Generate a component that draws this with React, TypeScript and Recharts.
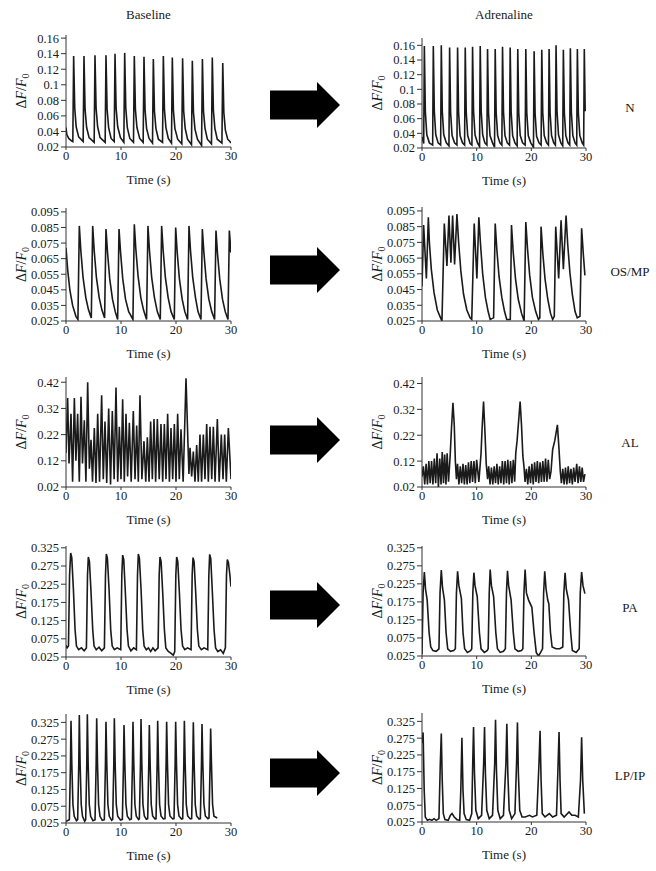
import React from 'react';
import { LineChart, Line, XAxis, YAxis } from 'recharts';

type Pt = [number, number];

// shared axis ticks
const timeTicks = [0, 10, 20, 30];
const nTicks = [0.02, 0.04, 0.06, 0.08, 0.1, 0.12, 0.14, 0.16];
const osTicks = [0.025, 0.035, 0.045, 0.055, 0.065, 0.075, 0.085, 0.095];
const alTicks = [0.02, 0.12, 0.22, 0.32, 0.42];
const paTicks = [0.025, 0.075, 0.125, 0.175, 0.225, 0.275, 0.325];

const columnTitles = ['Baseline', 'Adrenaline'];
const rowNames = ['N', 'OS/MP', 'AL', 'PA', 'LP/IP'];

// traces: [time (s), dF/F0]
const nBaseline: Pt[] = [
  [0, 0.045], [0.15, 0.036], [0.5, 0.031], [1.0, 0.028], [1.24, 0.027],
  [1.39, 0.137], [1.59, 0.07], [1.85, 0.046], [2.3, 0.033], [3.12, 0.027],
  [3.27, 0.137], [3.47, 0.068], [3.75, 0.045], [4.2, 0.032], [5.12, 0.026],
  [5.27, 0.138], [5.47, 0.07], [5.75, 0.046], [6.2, 0.032], [7.12, 0.026],
  [7.27, 0.138], [7.47, 0.069], [7.75, 0.045], [8.2, 0.031], [8.76, 0.027],
  [8.91, 0.14], [9.11, 0.07], [9.4, 0.046], [9.9, 0.032], [10.52, 0.026],
  [10.67, 0.141], [10.87, 0.07], [11.15, 0.045], [11.6, 0.031], [12.27, 0.026],
  [12.42, 0.137], [12.62, 0.068], [12.9, 0.045], [13.4, 0.031], [14.03, 0.026],
  [14.18, 0.136], [14.38, 0.067], [14.65, 0.044], [15.1, 0.031], [15.73, 0.025],
  [15.88, 0.133], [16.08, 0.066], [16.35, 0.044], [16.8, 0.03], [17.55, 0.026],
  [17.7, 0.137], [17.9, 0.068], [18.17, 0.045], [18.6, 0.031], [19.18, 0.025],
  [19.33, 0.135], [19.53, 0.067], [19.8, 0.044], [20.3, 0.03], [21.05, 0.024],
  [21.2, 0.134], [21.4, 0.066], [21.67, 0.044], [22.1, 0.03], [22.82, 0.023],
  [22.97, 0.131], [23.17, 0.065], [23.45, 0.043], [23.9, 0.03], [24.65, 0.022],
  [24.8, 0.133], [25.0, 0.066], [25.27, 0.044], [25.7, 0.03], [26.45, 0.024],
  [26.6, 0.135], [26.8, 0.067], [27.07, 0.044], [27.5, 0.03], [28.35, 0.025],
  [28.5, 0.128], [28.7, 0.064], [28.97, 0.042], [29.4, 0.03], [29.8, 0.027], [30, 0.025],
];

const nAdrenaline: Pt[] = [
  [0, 0.035], [0.31, 0.026], [0.43, 0.159], [0.61, 0.07], [0.88, 0.038], [1.35, 0.027], [1.95, 0.024],
  [2.07, 0.159], [2.25, 0.07], [2.52, 0.038], [2.95, 0.027], [3.41, 0.024],
  [3.53, 0.16], [3.71, 0.07], [3.98, 0.038], [4.45, 0.027], [4.93, 0.023],
  [5.05, 0.157], [5.23, 0.069], [5.5, 0.037], [5.95, 0.027], [6.39, 0.024],
  [6.51, 0.157], [6.69, 0.069], [6.96, 0.037], [7.4, 0.027], [7.79, 0.024],
  [7.91, 0.157], [8.09, 0.069], [8.36, 0.037], [8.8, 0.026], [9.13, 0.024],
  [9.25, 0.158], [9.43, 0.07], [9.7, 0.038], [10.15, 0.027], [10.53, 0.022],
  [10.65, 0.159], [10.83, 0.07], [11.1, 0.038], [11.5, 0.027], [11.87, 0.024],
  [11.99, 0.155], [12.17, 0.068], [12.44, 0.037], [12.9, 0.027], [13.27, 0.021],
  [13.39, 0.155], [13.57, 0.068], [13.84, 0.037], [14.25, 0.027], [14.61, 0.024],
  [14.73, 0.158], [14.91, 0.069], [15.18, 0.037], [15.6, 0.027], [16.01, 0.024],
  [16.13, 0.157], [16.31, 0.069], [16.58, 0.037], [17.0, 0.027], [17.4, 0.023],
  [17.52, 0.155], [17.7, 0.068], [17.97, 0.037], [18.4, 0.027], [18.87, 0.024],
  [18.99, 0.155], [19.17, 0.068], [19.44, 0.037], [19.9, 0.027], [20.39, 0.021],
  [20.51, 0.152], [20.69, 0.067], [20.96, 0.036], [21.4, 0.027], [21.79, 0.024],
  [21.91, 0.154], [22.09, 0.068], [22.36, 0.037], [22.8, 0.027], [23.13, 0.024],
  [23.25, 0.155], [23.43, 0.068], [23.7, 0.037], [24.1, 0.027], [24.4, 0.024],
  [24.52, 0.16], [24.7, 0.07], [24.97, 0.038], [25.4, 0.027], [25.74, 0.023],
  [25.86, 0.154], [26.04, 0.068], [26.31, 0.037], [26.7, 0.027], [27.02, 0.024],
  [27.14, 0.156], [27.32, 0.069], [27.59, 0.037], [28.0, 0.027], [28.3, 0.024],
  [28.42, 0.155], [28.6, 0.068], [28.87, 0.037], [29.3, 0.027], [29.57, 0.024],
  [29.69, 0.155], [29.85, 0.07],
];

const osBaseline: Pt[] = [
  [0, 0.072], [0.3, 0.058], [0.7, 0.045], [1.2, 0.035], [1.8, 0.028], [2.17, 0.026],
  [2.42, 0.086], [2.7, 0.07], [3.1, 0.053], [3.6, 0.04], [4.1, 0.032], [4.6, 0.027],
  [4.85, 0.086], [5.13, 0.07], [5.53, 0.053], [6.03, 0.04], [6.53, 0.032], [7.02, 0.027],
  [7.27, 0.084], [7.55, 0.069], [7.95, 0.052], [8.45, 0.039], [8.95, 0.031], [9.39, 0.026],
  [9.64, 0.084], [9.92, 0.069], [10.32, 0.052], [10.82, 0.039], [11.4, 0.031], [12.17, 0.026],
  [12.42, 0.087], [12.7, 0.071], [13.1, 0.054], [13.6, 0.04], [14.1, 0.032], [14.65, 0.026],
  [14.9, 0.086], [15.18, 0.07], [15.58, 0.053], [16.08, 0.04], [16.6, 0.031], [17.14, 0.026],
  [17.39, 0.086], [17.67, 0.07], [18.07, 0.053], [18.57, 0.04], [19.1, 0.031], [19.69, 0.026],
  [19.94, 0.085], [20.22, 0.069], [20.62, 0.052], [21.12, 0.039], [21.6, 0.031], [22.11, 0.026],
  [22.36, 0.086], [22.64, 0.07], [23.04, 0.053], [23.54, 0.04], [24.0, 0.031], [24.54, 0.026],
  [24.79, 0.084], [25.07, 0.069], [25.47, 0.052], [25.97, 0.039], [26.5, 0.031], [27.02, 0.026],
  [27.27, 0.083], [27.55, 0.068], [27.95, 0.052], [28.45, 0.039], [28.95, 0.031], [29.45, 0.026],
  [29.7, 0.083], [29.85, 0.076], [29.95, 0.069],
];

const osAdrenaline: Pt[] = [
  [0, 0.047], [0.3, 0.086], [0.8, 0.052], [1.16, 0.091], [1.35, 0.075], [1.7, 0.058], [2.2, 0.043],
  [2.8, 0.032], [3.4, 0.027], [3.65, 0.025],
  [4.08, 0.087], [4.56, 0.06], [4.93, 0.092], [5.29, 0.062], [5.6, 0.092], [5.96, 0.061], [6.39, 0.093],
  [6.7, 0.075], [7.1, 0.057], [7.6, 0.042], [8.2, 0.032], [8.8, 0.027], [9.1, 0.026],
  [9.55, 0.087], [10.04, 0.052], [10.4, 0.091], [10.7, 0.074], [11.1, 0.055], [11.6, 0.04], [12.1, 0.031],
  [12.47, 0.026], [13.1, 0.027],
  [13.39, 0.087], [13.7, 0.07], [14.1, 0.053], [14.6, 0.04], [15.1, 0.031], [15.5, 0.026], [16.15, 0.026],
  [16.37, 0.086], [16.68, 0.069], [17.1, 0.052], [17.6, 0.039], [18.2, 0.03], [18.68, 0.025],
  [18.99, 0.088], [19.3, 0.071], [19.7, 0.054], [20.2, 0.04], [20.8, 0.031], [21.3, 0.026], [21.55, 0.027],
  [21.78, 0.085], [22.1, 0.068], [22.5, 0.052], [23.0, 0.039], [23.5, 0.03], [23.9, 0.026], [24.2, 0.028],
  [24.46, 0.085], [25.0, 0.052], [25.44, 0.089], [25.86, 0.058], [26.35, 0.092], [26.65, 0.074],
  [27.05, 0.056], [27.5, 0.042], [28.0, 0.031], [28.4, 0.027], [28.9, 0.028],
  [29.2, 0.084], [29.5, 0.068], [29.8, 0.054],
];

const alBaseline: Pt[] = [
  [0, 0.15], [0.3, 0.36], [0.55, 0.11], [0.91, 0.3], [1.2, 0.04], [1.52, 0.36], [1.8, 0.12],
  [2.12, 0.3], [2.42, 0.04], [2.73, 0.365], [3.0, 0.11], [3.33, 0.275], [3.62, 0.04],
  [3.94, 0.42], [4.25, 0.09], [4.55, 0.2], [4.82, 0.04], [5.15, 0.245], [5.45, 0.035],
  [5.76, 0.3], [6.1, 0.04], [6.48, 0.37], [6.78, 0.05], [7.09, 0.27], [7.4, 0.035],
  [7.76, 0.32], [8.1, 0.03], [8.42, 0.31], [8.75, 0.05], [9.09, 0.4], [9.4, 0.04],
  [9.7, 0.25], [10.0, 0.05], [10.3, 0.355], [10.6, 0.04], [10.91, 0.3], [11.2, 0.06],
  [11.52, 0.265], [11.85, 0.04], [12.24, 0.31], [12.55, 0.05], [12.85, 0.255], [13.15, 0.04],
  [13.45, 0.37], [13.8, 0.05], [14.18, 0.195], [14.5, 0.04], [14.79, 0.21], [15.1, 0.04],
  [15.39, 0.27], [15.7, 0.05], [16.0, 0.28], [16.3, 0.04], [16.61, 0.28], [16.95, 0.05],
  [17.27, 0.26], [17.58, 0.04], [17.88, 0.26], [18.18, 0.05], [18.48, 0.3], [18.8, 0.04],
  [19.09, 0.245], [19.4, 0.05], [19.7, 0.26], [20.0, 0.04], [20.3, 0.3], [20.6, 0.05],
  [20.91, 0.24], [21.3, 0.04], [21.82, 0.435], [22.2, 0.17], [22.35, 0.07],
  [22.55, 0.17], [22.85, 0.06], [23.15, 0.155], [23.45, 0.04], [23.76, 0.18], [24.05, 0.04],
  [24.36, 0.22], [24.65, 0.04], [24.97, 0.22], [25.27, 0.05], [25.58, 0.26], [25.88, 0.04],
  [26.18, 0.25], [26.5, 0.05], [26.79, 0.25], [27.1, 0.04], [27.52, 0.28], [27.85, 0.04],
  [28.24, 0.22], [28.55, 0.05], [28.85, 0.22], [29.15, 0.04], [29.52, 0.245], [30, 0.05],
];

const alAdrenaline: Pt[] = [
  [0, 0.06], [0.25, 0.1], [0.5, 0.03], [0.75, 0.11], [1.0, 0.03], [1.25, 0.12], [1.5, 0.035],
  [1.75, 0.12], [2.0, 0.03], [2.25, 0.13], [2.5, 0.035], [2.75, 0.15], [3.0, 0.02], [3.25, 0.13],
  [3.48, 0.03], [3.7, 0.155], [3.93, 0.035], [4.15, 0.145], [4.38, 0.03], [4.6, 0.15], [4.85, 0.04],
  [5.15, 0.14], [5.4, 0.25], [5.66, 0.345], [5.9, 0.26], [6.1, 0.12], [6.3, 0.05],
  [6.5, 0.11], [6.75, 0.03], [7.0, 0.1], [7.25, 0.035], [7.5, 0.11], [7.75, 0.03], [8.0, 0.105],
  [8.25, 0.03], [8.5, 0.115], [8.75, 0.035], [9.0, 0.12], [9.25, 0.04], [9.5, 0.12], [9.75, 0.035],
  [10.0, 0.125], [10.4, 0.04], [10.8, 0.15], [11.0, 0.25], [11.26, 0.35], [11.5, 0.24], [11.75, 0.11],
  [12.0, 0.05], [12.2, 0.1], [12.45, 0.03], [12.7, 0.095], [12.95, 0.03], [13.2, 0.1], [13.45, 0.035],
  [13.7, 0.11], [13.95, 0.03], [14.2, 0.1], [14.45, 0.035], [14.7, 0.12], [14.95, 0.03], [15.2, 0.12],
  [15.45, 0.035], [15.7, 0.125], [15.95, 0.03], [16.2, 0.12], [16.45, 0.035], [16.7, 0.125],
  [16.95, 0.04], [17.15, 0.15], [17.4, 0.2], [17.95, 0.35], [18.2, 0.26], [18.45, 0.14], [18.65, 0.1],
  [18.85, 0.04], [19.1, 0.09], [19.35, 0.03], [19.6, 0.1], [19.85, 0.035], [20.1, 0.11], [20.35, 0.03],
  [20.6, 0.115], [20.85, 0.04], [21.1, 0.12], [21.35, 0.035], [21.6, 0.115], [21.85, 0.04],
  [22.1, 0.12], [22.35, 0.04], [22.6, 0.13], [22.85, 0.04], [23.1, 0.125], [23.35, 0.05],
  [23.6, 0.08], [23.9, 0.165], [24.3, 0.2], [24.77, 0.26], [25.05, 0.17], [25.3, 0.08],
  [25.5, 0.035], [25.75, 0.09], [26.0, 0.03], [26.25, 0.095], [26.5, 0.03], [26.75, 0.1],
  [27.0, 0.035], [27.25, 0.09], [27.5, 0.03], [27.75, 0.095], [28.0, 0.04], [28.3, 0.11],
  [28.55, 0.035], [28.8, 0.1], [29.05, 0.04], [29.3, 0.095], [29.55, 0.04], [29.8, 0.07],
];

const paBaseline: Pt[] = [
  [0, 0.057], [0.2, 0.05], [0.45, 0.055], [0.65, 0.25], [0.85, 0.311], [1.05, 0.298], [1.35, 0.21],
  [1.65, 0.1], [1.9, 0.055], [2.3, 0.045], [2.8, 0.05], [3.3, 0.042], [3.71, 0.05],
  [3.91, 0.25], [4.06, 0.3], [4.26, 0.288], [4.56, 0.2], [4.86, 0.1], [5.1, 0.055], [5.5, 0.045],
  [6.0, 0.052], [6.5, 0.042], [6.98, 0.05],
  [7.18, 0.25], [7.33, 0.308], [7.53, 0.296], [7.83, 0.21], [8.13, 0.1], [8.4, 0.055], [8.8, 0.045],
  [9.3, 0.05], [9.95, 0.045],
  [10.15, 0.25], [10.3, 0.305], [10.5, 0.293], [10.8, 0.2], [11.1, 0.1], [11.35, 0.055], [11.8, 0.042],
  [12.3, 0.05], [12.8, 0.045],
  [13.0, 0.25], [13.15, 0.308], [13.35, 0.296], [13.65, 0.21], [13.95, 0.1], [14.2, 0.055], [14.6, 0.045],
  [15.0, 0.05], [15.4, 0.04], [15.8, 0.05], [16.2, 0.042], [16.74, 0.05],
  [16.94, 0.25], [17.09, 0.3], [17.29, 0.288], [17.59, 0.2], [17.89, 0.1], [18.15, 0.05], [18.6, 0.04],
  [19.1, 0.035], [19.5, 0.03], [19.77, 0.04],
  [19.97, 0.25], [20.12, 0.3], [20.32, 0.288], [20.62, 0.2], [20.92, 0.1], [21.2, 0.055], [21.6, 0.045],
  [22.1, 0.05], [22.74, 0.045],
  [22.94, 0.25], [23.09, 0.298], [23.29, 0.287], [23.59, 0.2], [23.89, 0.1], [24.15, 0.055], [24.6, 0.045],
  [25.1, 0.05], [25.77, 0.045],
  [25.97, 0.25], [26.12, 0.307], [26.32, 0.295], [26.62, 0.2], [26.92, 0.1], [27.2, 0.05], [27.6, 0.04],
  [28.1, 0.045], [28.6, 0.035], [28.98, 0.05],
  [29.18, 0.25], [29.33, 0.293], [29.53, 0.285], [29.8, 0.25], [30, 0.218],
];

const paAdrenaline: Pt[] = [
  [0, 0.03], [0.2, 0.2], [0.43, 0.258], [0.65, 0.21], [0.95, 0.18], [1.3, 0.09], [1.6, 0.05], [2.0, 0.04],
  [2.6, 0.038], [3.1, 0.045],
  [3.3, 0.2], [3.53, 0.263], [3.75, 0.215], [4.1, 0.18], [4.4, 0.09], [4.7, 0.045], [5.2, 0.038],
  [5.8, 0.04], [6.1, 0.045],
  [6.3, 0.2], [6.51, 0.26], [6.75, 0.22], [7.2, 0.185], [7.5, 0.09], [7.8, 0.045], [8.3, 0.035],
  [8.9, 0.04], [9.1, 0.045],
  [9.3, 0.2], [9.49, 0.256], [9.7, 0.22], [10.1, 0.19], [10.5, 0.09], [10.8, 0.045], [11.4, 0.035],
  [11.9, 0.04], [12.1, 0.045],
  [12.3, 0.2], [12.47, 0.265], [12.7, 0.22], [13.1, 0.19], [13.5, 0.09], [13.8, 0.045], [14.3, 0.035],
  [14.9, 0.038], [15.25, 0.045],
  [15.45, 0.2], [15.64, 0.261], [15.85, 0.22], [16.3, 0.18], [16.7, 0.09], [17.0, 0.045], [17.6, 0.038],
  [18.2, 0.04], [18.45, 0.045],
  [18.65, 0.2], [18.86, 0.265], [19.1, 0.2], [19.5, 0.18], [20.1, 0.16], [20.5, 0.09], [20.9, 0.035],
  [21.3, 0.025], [21.7, 0.035], [22.05, 0.045],
  [22.25, 0.2], [22.45, 0.26], [22.7, 0.21], [23.0, 0.18], [23.2, 0.17], [23.5, 0.09], [23.8, 0.05],
  [24.5, 0.045], [25.2, 0.045], [25.75, 0.05],
  [25.95, 0.2], [26.17, 0.256], [26.4, 0.21], [26.8, 0.18], [27.2, 0.09], [27.5, 0.04], [28.2, 0.035],
  [28.75, 0.045],
  [28.95, 0.2], [29.2, 0.258], [29.45, 0.22], [29.8, 0.198],
];

const lpBaseline: Pt[] = [
  [0, 0.03], [0.61, 0.035], [0.81, 0.2], [0.91, 0.33], [1.06, 0.2], [1.26, 0.08], [1.5, 0.045], [1.9, 0.032],
  [2.12, 0.035], [2.32, 0.2], [2.42, 0.347], [2.57, 0.2], [2.77, 0.08], [3.0, 0.045], [3.4, 0.03],
  [3.58, 0.035], [3.78, 0.2], [3.88, 0.349], [4.03, 0.2], [4.23, 0.08], [4.48, 0.045], [4.9, 0.032],
  [5.28, 0.035], [5.48, 0.2], [5.58, 0.337], [5.73, 0.2], [5.93, 0.08], [6.18, 0.045], [6.6, 0.033],
  [6.97, 0.035], [7.17, 0.2], [7.27, 0.327], [7.42, 0.2], [7.62, 0.08], [7.87, 0.045], [8.3, 0.033],
  [8.49, 0.036], [8.69, 0.2], [8.79, 0.337], [8.94, 0.2], [9.14, 0.08], [9.4, 0.045], [9.9, 0.034],
  [10.25, 0.036], [10.45, 0.2], [10.55, 0.317], [10.7, 0.2], [10.9, 0.08], [11.15, 0.045], [11.6, 0.035],
  [11.88, 0.037], [12.08, 0.2], [12.18, 0.327], [12.33, 0.2], [12.53, 0.08], [12.78, 0.045], [13.2, 0.035],
  [13.34, 0.037], [13.54, 0.2], [13.64, 0.335], [13.79, 0.2], [13.99, 0.08], [14.24, 0.046], [14.6, 0.036],
  [14.85, 0.038], [15.05, 0.2], [15.15, 0.317], [15.3, 0.2], [15.5, 0.08], [15.75, 0.046], [16.2, 0.037],
  [16.37, 0.038], [16.57, 0.2], [16.67, 0.33], [16.82, 0.2], [17.02, 0.08], [17.27, 0.046], [17.7, 0.037],
  [18.0, 0.038], [18.2, 0.2], [18.3, 0.327], [18.45, 0.2], [18.65, 0.08], [18.9, 0.046], [19.4, 0.037],
  [19.64, 0.038], [19.84, 0.2], [19.94, 0.327], [20.09, 0.2], [20.29, 0.08], [20.54, 0.046], [21.0, 0.037],
  [21.22, 0.038], [21.42, 0.2], [21.52, 0.33], [21.67, 0.2], [21.87, 0.08], [22.12, 0.046], [22.6, 0.037],
  [22.85, 0.038], [23.05, 0.2], [23.15, 0.325], [23.3, 0.2], [23.5, 0.08], [23.75, 0.046], [24.2, 0.037],
  [24.43, 0.038], [24.63, 0.2], [24.73, 0.32], [24.88, 0.2], [25.08, 0.08], [25.33, 0.046], [25.8, 0.038],
  [26.0, 0.04], [26.2, 0.2], [26.3, 0.307], [26.45, 0.2], [26.65, 0.08], [26.9, 0.045], [27.5, 0.04],
];

const lpAdrenaline: Pt[] = [
  [0, 0.26], [0.2, 0.292], [0.4, 0.12], [0.6, 0.04], [1.0, 0.03], [1.4, 0.033], [1.8, 0.03], [2.2, 0.035],
  [2.6, 0.03], [3.1, 0.035], [3.35, 0.2], [3.53, 0.289], [3.7, 0.15], [3.9, 0.05], [4.2, 0.032],
  [4.8, 0.03], [5.2, 0.045], [5.5, 0.05], [5.9, 0.04], [6.4, 0.032], [6.9, 0.03], [7.1, 0.12],
  [7.3, 0.276], [7.5, 0.12], [7.7, 0.05], [8.1, 0.032], [8.7, 0.03], [9.1, 0.05], [9.28, 0.2],
  [9.43, 0.308], [9.6, 0.17], [9.85, 0.06], [10.3, 0.035], [10.9, 0.045], [11.28, 0.2], [11.44, 0.308],
  [11.6, 0.17], [11.85, 0.06], [12.3, 0.035], [12.9, 0.045], [13.3, 0.2], [13.45, 0.33], [13.62, 0.18],
  [13.87, 0.06], [14.3, 0.035], [14.9, 0.045], [15.35, 0.2], [15.52, 0.318], [15.7, 0.17], [15.95, 0.06],
  [16.4, 0.035], [17.0, 0.05], [17.3, 0.2], [17.46, 0.322], [17.63, 0.17], [17.88, 0.06], [18.3, 0.04],
  [18.9, 0.04], [19.65, 0.045], [20.2, 0.04], [21.0, 0.045], [21.4, 0.2], [21.6, 0.297], [21.78, 0.15],
  [22.0, 0.05], [22.5, 0.04], [23.3, 0.05], [23.9, 0.04], [24.6, 0.045], [24.9, 0.2], [25.07, 0.293],
  [25.25, 0.15], [25.45, 0.05], [26.0, 0.04], [26.9, 0.055], [27.4, 0.045], [28.0, 0.045], [28.6, 0.04],
  [29.0, 0.15], [29.2, 0.278], [29.4, 0.15], [29.7, 0.05],
];

const FONT = 'Liberation Serif, Times New Roman, serif';
const INK = '#1a1a1a';

interface PanelProps {
  trace: Pt[];
  left: number;
  top: number;
  width: number;
  height: number;
  domain: [number, number];
  ticks: number[];
}

const Panel = ({ trace, left, top, width, height, domain, ticks }: PanelProps) => {
  const data = trace.map(([t, v]) => ({ t, v }));
  return (
    <div style={{ position: 'absolute', left: left - 60, top: top - 10 }}>
      <LineChart
        width={width + 75}
        height={height + 55}
        data={data}
        margin={{ top: 10, right: 15, left: 0, bottom: 0 }}
      >
        <XAxis
          dataKey="t"
          type="number"
          domain={[0, 30]}
          ticks={timeTicks}
          interval={0}
          allowDataOverflow
          height={45}
          tickSize={3}
          tickMargin={1}
          stroke="#333"
          tick={{ fontSize: 12.5, fontFamily: FONT, fill: INK }}
        />
        <YAxis
          type="number"
          domain={domain}
          ticks={ticks}
          interval={0}
          allowDataOverflow
          width={60}
          tickSize={5}
          tickMargin={2}
          stroke="#333"
          tickFormatter={(v: number) => String(v)}
          tick={{ fontSize: 12.5, fontFamily: FONT, fill: INK }}
        />
        <Line
          dataKey="v"
          type="linear"
          dot={false}
          stroke={INK}
          strokeWidth={1.6}
          isAnimationActive={false}
        />
      </LineChart>
    </div>
  );
};

const rows = [
  {
    name: rowNames[0], labelY: 111.5, arrowY: 105,
    left: { trace: nBaseline, top: 35, height: 112, domain: [0.02, 0.164] as [number, number], ticks: nTicks },
    right: { trace: nAdrenaline, top: 38, height: 110, domain: [0.02, 0.17] as [number, number], ticks: nTicks },
  },
  {
    name: rowNames[1], labelY: 276, arrowY: 270,
    left: { trace: osBaseline, top: 208, height: 113, domain: [0.025, 0.0975] as [number, number], ticks: osTicks },
    right: { trace: osAdrenaline, top: 207, height: 114, domain: [0.025, 0.0975] as [number, number], ticks: osTicks },
  },
  {
    name: rowNames[2], labelY: 446.5, arrowY: 440,
    left: { trace: alBaseline, top: 377, height: 110, domain: [0.02, 0.44] as [number, number], ticks: alTicks },
    right: { trace: alAdrenaline, top: 377, height: 110, domain: [0.02, 0.445] as [number, number], ticks: alTicks },
  },
  {
    name: rowNames[3], labelY: 611.5, arrowY: 605,
    left: { trace: paBaseline, top: 546, height: 111, domain: [0.025, 0.33] as [number, number], ticks: paTicks },
    right: { trace: paAdrenaline, top: 546, height: 110, domain: [0.025, 0.33] as [number, number], ticks: paTicks },
  },
  {
    name: rowNames[4], labelY: 779.5, arrowY: 773,
    left: { trace: lpBaseline, top: 714, height: 109, domain: [0.025, 0.35] as [number, number], ticks: paTicks },
    right: { trace: lpAdrenaline, top: 713, height: 109, domain: [0.025, 0.35] as [number, number], ticks: paTicks },
  },
];

const LEFT_X = 66;
const LEFT_W = 165;
const RIGHT_X = 422;
const RIGHT_W = 164;

const YLabel = ({ x, y }: { x: number; y: number }) => (
  <text
    transform={`translate(${x},${y}) rotate(-90)`}
    textAnchor="middle"
    fontFamily={FONT}
    fontSize={14}
    fill={INK}
  >
    Δ<tspan fontStyle="italic">F</tspan>/<tspan fontStyle="italic">F</tspan>
    <tspan fontSize={10} dy={3}>0</tspan>
  </text>
);

const Arrow = ({ y }: { y: number }) => (
  <path
    d={`M270,${y - 14.5} L317,${y - 14.5} L317,${y - 23} L340,${y} L317,${y + 23} L317,${y + 14.5} L270,${y + 14.5} Z`}
    fill="#000"
  />
);

export default function App() {
  return (
    <div style={{ position: 'absolute', left: 0, top: 0, width: 656, height: 871, background: '#fff', overflow: 'hidden' }}>
      {rows.map((r) => (
        <React.Fragment key={r.name}>
          <Panel trace={r.left.trace} left={LEFT_X} top={r.left.top} width={LEFT_W} height={r.left.height} domain={r.left.domain} ticks={r.left.ticks} />
          <Panel trace={r.right.trace} left={RIGHT_X} top={r.right.top} width={RIGHT_W} height={r.right.height} domain={r.right.domain} ticks={r.right.ticks} />
        </React.Fragment>
      ))}
      <svg width={656} height={871} style={{ position: 'absolute', left: 0, top: 0, pointerEvents: 'none' }}>
        <text x={LEFT_X + LEFT_W / 2} y={18.5} textAnchor="middle" fontFamily={FONT} fontSize={13} fill={INK}>{columnTitles[0]}</text>
        <text x={RIGHT_X + RIGHT_W / 2} y={18.5} textAnchor="middle" fontFamily={FONT} fontSize={13} fill={INK}>{columnTitles[1]}</text>
        {rows.map((r) => (
          <g key={r.name}>
            <text x={630} y={r.labelY} textAnchor="middle" fontFamily={FONT} fontSize={13} fill={INK}>{r.name}</text>
            <Arrow y={r.arrowY} />
            <YLabel x={LEFT_X - 40} y={r.left.top + r.left.height / 2} />
            <YLabel x={RIGHT_X - 40} y={r.right.top + r.right.height / 2} />
            <text x={LEFT_X + LEFT_W / 2} y={r.left.top + r.left.height + 37} textAnchor="middle" fontFamily={FONT} fontSize={13} fill={INK}>Time (s)</text>
            <text x={RIGHT_X + RIGHT_W / 2} y={r.right.top + r.right.height + 37} textAnchor="middle" fontFamily={FONT} fontSize={13} fill={INK}>Time (s)</text>
          </g>
        ))}
      </svg>
    </div>
  );
}
